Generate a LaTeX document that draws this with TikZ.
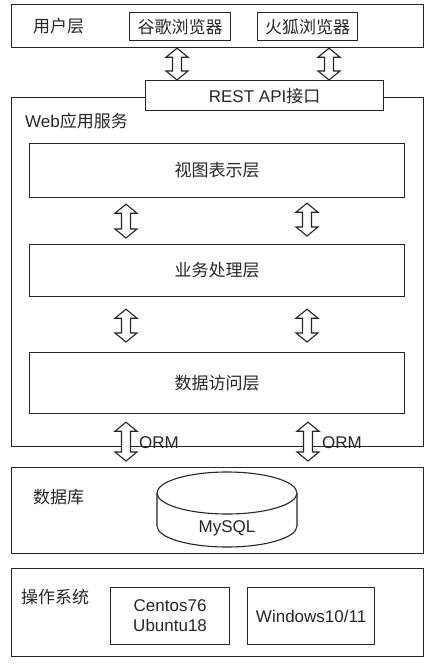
\documentclass[tikz,border=0pt]{standalone}
\usepackage{fontspec}
\setmainfont{Liberation Sans}
\newfontfamily\cjk{Noto Sans CJK SC}
\usetikzlibrary{calc}
\tikzset{
  box/.style={draw=black!85, line width=1.2pt, fill=white, inner sep=0pt, anchor=north west,
    font=\fontsize{17}{20}\selectfont, text=black!85},
  lbl/.style={inner sep=0pt, font=\fontsize{17}{20}\selectfont, text=black!85},
  dblarr/.style={draw=black!85, line width=1.1pt, fill=white, line join=miter},
  cyl/.style={draw=black!85, line width=1.1pt, fill=white},
}
\newcommand\dblarr[5]{%
  \draw[dblarr] let \p1=(#2), \p2=(#4) in
  (#1pt,\y1-#3pt) -- (#1pt+11pt,\y1-#3pt-9pt) -- (#1pt+4.5pt,\y1-#3pt-9pt)
  -- (#1pt+4.5pt,\y2+#5pt+9pt) -- (#1pt+11pt,\y2+#5pt+9pt) -- (#1pt,\y2+#5pt)
  -- (#1pt-11pt,\y2+#5pt+9pt) -- (#1pt-4.5pt,\y2+#5pt+9pt)
  -- (#1pt-4.5pt,\y1-#3pt-9pt) -- (#1pt-11pt,\y1-#3pt-9pt) -- cycle;}
\begin{document}
\begin{tikzpicture}[x=1pt,y=-1pt]
\useasboundingbox (0,0) rectangle (438,665);
% user layer
\node[box, minimum width=412, minimum height=43] (user) at (11,4) {};
\node[lbl, anchor=west] (userlbl) at (33,26) {\cjk 用户层};
\node[box, minimum width=101, minimum height=28] (chrome) at (129,12) {\cjk 谷歌浏览器};
\node[box, minimum width=100, minimum height=28] (firefox) at (257,12) {\cjk 火狐浏览器};
% web service
\node[box, minimum width=412, minimum height=349] (web) at (11,97) {};
\node[box, minimum width=238, minimum height=30] (rest) at (145,80) {REST API{\cjk 接口}};
\node[lbl, anchor=west] (weblbl) at (25,121) {Web{\cjk 应用服务}};
\node[box, minimum width=375, minimum height=54] (view) at (29,143) {\cjk 视图表示层};
\node[box, minimum width=375, minimum height=52] (biz) at (29,244) {\cjk 业务处理层};
\node[box, minimum width=375, minimum height=61] (dao) at (29,352) {\cjk 数据访问层};
% database
\node[box, minimum width=412, minimum height=86] (db) at (11,467) {};
\node[lbl, anchor=west] (dblbl) at (33,497) {\cjk 数据库};
\draw[cyl] (157,493) -- (157,526) .. controls (157,537.6) and (188.3,547) .. (227,547)
  .. controls (265.7,547) and (297,537.6) .. (297,526) -- (297,493);
\draw[cyl] (227,493) ellipse [x radius=70, y radius=21];
\node[lbl] (mysql) at (227,528) {MySQL};
% operating system
\node[box, minimum width=412, minimum height=88] (os) at (11,568) {};
\node[lbl, anchor=west] (oslbl) at (21,597) {\cjk 操作系统};
\node[box, minimum width=119, minimum height=57, align=center] (centos) at (110,587) {Centos76\\Ubuntu18};
\node[box, minimum width=127, minimum height=57] (windows) at (247,587) {Windows10/11};
% arrows
\dblarr{177}{user.south}{0}{rest.north}{0}
\dblarr{329}{user.south}{0}{rest.north}{0}
\dblarr{126}{view.south}{6}{biz.north}{6}
\dblarr{307}{view.south}{5}{biz.north}{8}
\dblarr{126}{biz.south}{12}{dao.north}{10}
\dblarr{307}{biz.south}{12}{dao.north}{10}
\dblarr{126}{dao.south}{8}{db.north}{6}
\dblarr{308}{dao.south}{8}{db.north}{6}
\node[lbl, anchor=west] (orm1) at (139,443) {ORM};
\node[lbl, anchor=west] (orm2) at (322,443) {ORM};
\end{tikzpicture}
\end{document}
